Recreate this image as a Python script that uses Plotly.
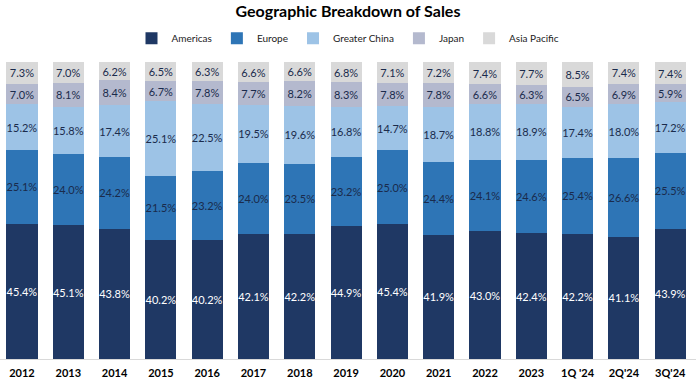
import plotly.graph_objects as go

categories = ["2012", "2013", "2014", "2015", "2016", "2017", "2018", "2019", "2020",
              "2021", "2022", "2023", "1Q '24", "2Q'24", "3Q'24"]
americas = [45.4, 45.1, 43.8, 40.2, 40.2, 42.1, 42.2, 44.9, 45.4, 41.9, 43.0, 42.4, 42.2, 41.1, 43.9]
europe = [25.1, 24.0, 24.2, 21.5, 23.2, 24.0, 23.5, 23.2, 25.0, 24.4, 24.1, 24.6, 25.4, 26.6, 25.5]
greater_china = [15.2, 15.8, 17.4, 25.1, 22.5, 19.5, 19.6, 16.8, 14.7, 18.7, 18.8, 18.9, 17.4, 18.0, 17.2]
japan = [7.0, 8.1, 8.4, 6.7, 7.8, 7.7, 8.2, 8.3, 7.8, 7.8, 6.6, 6.3, 6.5, 6.9, 5.9]
asia_pacific = [7.3, 7.0, 6.2, 6.5, 6.3, 6.6, 6.6, 6.8, 7.1, 7.2, 7.4, 7.7, 8.5, 7.4, 7.4]

series = [
    ("Americas", americas, "#1F3864", "#FFFFFF"),
    ("Europe", europe, "#2E75B6", "#1A2B4C"),
    ("Greater China", greater_china, "#9DC3E6", "#1A2B4C"),
    ("Japan", japan, "#B4B9CE", "#1A2B4C"),
    ("Asia Pacific", asia_pacific, "#D9D9D9", "#1A2B4C"),
]

FONT = "Lato"

fig = go.Figure()
for name, vals, color, tcolor in series:
    fig.add_trace(go.Bar(
        x=categories, y=vals, name=name,
        marker=dict(color=color, line=dict(width=0)),
        text=[f"{v:.1f}%" for v in vals],
        textposition="inside", insidetextanchor="middle",
        textangle=0, constraintext="none",
        textfont=dict(color=tcolor, size=11, family=FONT),
    ))

fig.update_layout(
    barmode="stack",
    bargap=0.33,
    width=696, height=383,
    margin=dict(l=0, r=0, t=62, b=24),
    paper_bgcolor="white", plot_bgcolor="white",
    title=dict(text="<b>Geographic Breakdown of Sales</b>", x=0.5, xanchor="center",
               y=0.97, yanchor="middle",
               font=dict(size=16, color="#000000", family=FONT)),
    legend=dict(orientation="h", x=0.5, xanchor="center", y=1.08, yanchor="middle",
                font=dict(size=10, color="#222222", family=FONT),
                itemwidth=30, tracegroupgap=0, traceorder="normal"),
)
fig.update_xaxes(showgrid=False, showline=True, linecolor="#D9D9D9", linewidth=1,
                 range=[-0.475, 14.557],
                 ticks="", ticklabelstandoff=4,
                 tickfont=dict(size=11, color="#000000", family=FONT),
                 tickprefix="<b>", ticksuffix="</b>")
fig.update_yaxes(range=[0, 100], showgrid=False, showticklabels=False, zeroline=False,
                 showline=False)

fig.write_html("out.html", config={"displayModeBar": False},
               post_script="document.body.style.margin='0';")
